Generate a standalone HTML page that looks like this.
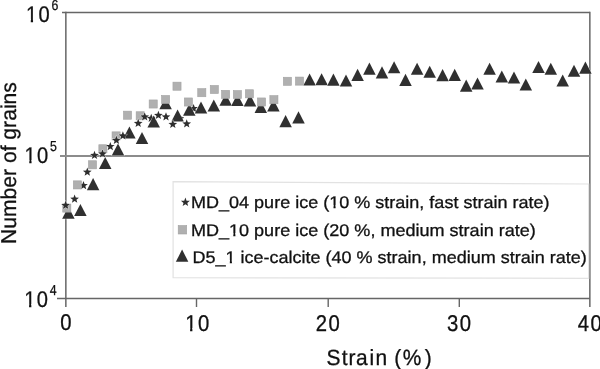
<!DOCTYPE html>
<html><head><meta charset="utf-8"><style>
html,body{margin:0;padding:0;background:#fff;}
body{width:600px;height:369px;overflow:hidden;position:relative;font-family:"Liberation Sans",sans-serif;}
svg{position:absolute;left:0;top:0;will-change:transform;}
text{font-family:"Liberation Sans",sans-serif;fill:#111;stroke:#111;stroke-width:0.3px;text-rendering:geometricPrecision;}
</style></head><body>
<svg width="600" height="369" viewBox="0 0 600 369">
<rect x="0" y="0" width="600" height="369" fill="#fff"/>
<g stroke="#666" stroke-width="1.4" fill="none">
<path d="M62,12.5 H589.85"/>
<path d="M589.85,11.8 V307" stroke-width="1.5"/>
<path d="M65.85,11.8 V307" stroke-width="1.5"/>
<path d="M57,298.5 H589.85"/>
<path d="M60,156 H589.85" stroke="#8c8c8c" stroke-width="1.9"/>
<path d="M196.5,298.5 V307 M328.2,298.5 V307 M459.3,298.5 V307"/>
</g>
<g fill="#2e2e2e" stroke="#fff" stroke-width="0.6" paint-order="stroke"><path d="M83.50,180.90 L84.64,183.94 L87.87,184.08 L85.34,186.10 L86.20,189.22 L83.50,187.43 L80.80,189.22 L81.66,186.10 L79.13,184.08 L82.36,183.94Z"/><path d="M151.20,113.80 L152.34,116.84 L155.57,116.98 L153.04,119.00 L153.90,122.12 L151.20,120.33 L148.50,122.12 L149.36,119.00 L146.83,116.98 L150.06,116.84Z"/><path d="M193.60,103.90 L194.74,106.94 L197.97,107.08 L195.44,109.10 L196.30,112.22 L193.60,110.43 L190.90,112.22 L191.76,109.10 L189.23,107.08 L192.46,106.94Z"/><path d="M180.6,116.2 L184.1,117.5 L181.4,119.8 Z"/></g>
<g fill="#303030" stroke="#fff" stroke-width="0.6" paint-order="stroke"><path d="M62.15,218.80 L74.65,218.80 L68.40,206.70 Z"/><path d="M74.15,216.00 L86.65,216.00 L80.40,203.90 Z"/><path d="M86.85,190.20 L99.35,190.20 L93.10,178.10 Z"/><path d="M98.95,169.00 L111.45,169.00 L105.20,156.90 Z"/><path d="M111.75,155.60 L124.25,155.60 L118.00,143.50 Z"/><path d="M123.15,138.60 L135.65,138.60 L129.40,126.50 Z"/><path d="M135.75,144.00 L148.25,144.00 L142.00,131.90 Z"/><path d="M147.45,127.50 L159.95,127.50 L153.70,115.40 Z"/><path d="M159.35,109.30 L171.85,109.30 L165.60,97.20 Z"/><path d="M171.35,121.50 L183.85,121.50 L177.60,109.40 Z"/><path d="M183.05,115.80 L195.55,115.80 L189.30,103.70 Z"/><path d="M194.75,113.60 L207.25,113.60 L201.00,101.50 Z"/><path d="M207.55,111.50 L220.05,111.50 L213.80,99.40 Z"/><path d="M219.45,105.80 L231.95,105.80 L225.70,93.70 Z"/><path d="M231.15,106.00 L243.65,106.00 L237.40,93.90 Z"/><path d="M243.75,106.40 L256.25,106.40 L250.00,94.30 Z"/><path d="M254.55,113.00 L267.05,113.00 L260.80,100.90 Z"/><path d="M267.15,111.40 L279.65,111.40 L273.40,99.30 Z"/><path d="M279.35,127.20 L291.85,127.20 L285.60,115.10 Z"/><path d="M292.25,123.40 L304.75,123.40 L298.50,111.30 Z"/><path d="M303.35,85.50 L315.85,85.50 L309.60,73.40 Z"/><path d="M315.35,85.30 L327.85,85.30 L321.60,73.20 Z"/><path d="M327.15,85.70 L339.65,85.70 L333.40,73.60 Z"/><path d="M339.75,86.60 L352.25,86.60 L346.00,74.50 Z"/><path d="M351.35,80.90 L363.85,80.90 L357.60,68.80 Z"/><path d="M363.15,74.70 L375.65,74.70 L369.40,62.60 Z"/><path d="M375.75,78.40 L388.25,78.40 L382.00,66.30 Z"/><path d="M387.85,73.30 L400.35,73.30 L394.10,61.20 Z"/><path d="M399.25,85.90 L411.75,85.90 L405.50,73.80 Z"/><path d="M410.85,74.80 L423.35,74.80 L417.10,62.70 Z"/><path d="M423.45,77.80 L435.95,77.80 L429.70,65.70 Z"/><path d="M436.35,81.20 L448.85,81.20 L442.60,69.10 Z"/><path d="M448.45,80.90 L460.95,80.90 L454.70,68.80 Z"/><path d="M459.95,91.70 L472.45,91.70 L466.20,79.60 Z"/><path d="M471.25,89.50 L483.75,89.50 L477.50,77.40 Z"/><path d="M483.35,74.80 L495.85,74.80 L489.60,62.70 Z"/><path d="M495.55,82.50 L508.05,82.50 L501.80,70.40 Z"/><path d="M507.75,83.60 L520.25,83.60 L514.00,71.50 Z"/><path d="M519.55,90.60 L532.05,90.60 L525.80,78.50 Z"/><path d="M532.25,73.00 L544.75,73.00 L538.50,60.90 Z"/><path d="M544.55,74.80 L557.05,74.80 L550.80,62.70 Z"/><path d="M556.45,86.60 L568.95,86.60 L562.70,74.50 Z"/><path d="M567.75,76.80 L580.25,76.80 L574.00,64.70 Z"/><path d="M579.15,73.70 L591.65,73.70 L585.40,61.60 Z"/></g>
<g fill="#b0b0b0" stroke="#a2a2a2" stroke-width="0.6"><rect x="62.75" y="204.05" width="8.1" height="8.1"/><rect x="73.35" y="180.85" width="8.1" height="8.1"/><rect x="88.45" y="160.75" width="8.1" height="8.1"/><rect x="98.85" y="144.75" width="8.1" height="8.1"/><rect x="112.05" y="131.85" width="8.1" height="8.1"/><rect x="123.45" y="111.15" width="8.1" height="8.1"/><rect x="136.15" y="111.75" width="8.1" height="8.1"/><rect x="149.15" y="99.95" width="8.1" height="8.1"/><rect x="161.55" y="95.45" width="8.1" height="8.1"/><rect x="172.95" y="82.15" width="8.1" height="8.1"/><rect x="184.35" y="97.95" width="8.1" height="8.1"/><rect x="197.75" y="88.65" width="8.1" height="8.1"/><rect x="210.25" y="85.45" width="8.1" height="8.1"/><rect x="221.55" y="90.35" width="8.1" height="8.1"/><rect x="233.35" y="90.55" width="8.1" height="8.1"/><rect x="245.35" y="89.75" width="8.1" height="8.1"/><rect x="257.45" y="97.95" width="8.1" height="8.1"/><rect x="269.85" y="95.65" width="8.1" height="8.1"/><rect x="283.35" y="77.25" width="8.1" height="8.1"/><rect x="295.45" y="77.05" width="8.1" height="8.1"/></g>
<g fill="#2e2e2e" stroke="#fff" stroke-width="0.6" paint-order="stroke"><path d="M65.60,200.70 L66.74,203.74 L69.97,203.88 L67.44,205.90 L68.30,209.02 L65.60,207.23 L62.90,209.02 L63.76,205.90 L61.23,203.88 L64.46,203.74Z"/><path d="M74.60,194.50 L75.74,197.54 L78.97,197.68 L76.44,199.70 L77.30,202.82 L74.60,201.03 L71.90,202.82 L72.76,199.70 L70.23,197.68 L73.46,197.54Z"/><path d="M87.30,167.50 L88.44,170.54 L91.67,170.68 L89.14,172.70 L90.00,175.82 L87.30,174.03 L84.60,175.82 L85.46,172.70 L82.93,170.68 L86.16,170.54Z"/><path d="M94.50,150.80 L95.64,153.84 L98.87,153.98 L96.34,156.00 L97.20,159.12 L94.50,157.33 L91.80,159.12 L92.66,156.00 L90.13,153.98 L93.36,153.84Z"/><path d="M102.50,149.20 L103.64,152.24 L106.87,152.38 L104.34,154.40 L105.20,157.52 L102.50,155.73 L99.80,157.52 L100.66,154.40 L98.13,152.38 L101.36,152.24Z"/><path d="M110.30,141.90 L111.44,144.94 L114.67,145.08 L112.14,147.10 L113.00,150.22 L110.30,148.43 L107.60,150.22 L108.46,147.10 L105.93,145.08 L109.16,144.94Z"/><path d="M116.40,135.70 L117.54,138.74 L120.77,138.88 L118.24,140.90 L119.10,144.02 L116.40,142.23 L113.70,144.02 L114.56,140.90 L112.03,138.88 L115.26,138.74Z"/><path d="M122.90,131.20 L124.04,134.24 L127.27,134.38 L124.74,136.40 L125.60,139.52 L122.90,137.73 L120.20,139.52 L121.06,136.40 L118.53,134.38 L121.76,134.24Z"/><path d="M138.20,118.80 L139.34,121.84 L142.57,121.98 L140.04,124.00 L140.90,127.12 L138.20,125.33 L135.50,127.12 L136.36,124.00 L133.83,121.98 L137.06,121.84Z"/><path d="M144.70,112.20 L145.84,115.24 L149.07,115.38 L146.54,117.40 L147.40,120.52 L144.70,118.73 L142.00,120.52 L142.86,117.40 L140.33,115.38 L143.56,115.24Z"/><path d="M158.40,110.80 L159.54,113.84 L162.77,113.98 L160.24,116.00 L161.10,119.12 L158.40,117.33 L155.70,119.12 L156.56,116.00 L154.03,113.98 L157.26,113.84Z"/><path d="M166.00,112.20 L167.14,115.24 L170.37,115.38 L167.84,117.40 L168.70,120.52 L166.00,118.73 L163.30,120.52 L164.16,117.40 L161.63,115.38 L164.86,115.24Z"/><path d="M172.80,119.80 L173.94,122.84 L177.17,122.98 L174.64,125.00 L175.50,128.12 L172.80,126.33 L170.10,128.12 L170.96,125.00 L168.43,122.98 L171.66,122.84Z"/><path d="M186.70,119.20 L187.84,122.24 L191.07,122.38 L188.54,124.40 L189.40,127.52 L186.70,125.73 L184.00,127.52 L184.86,124.40 L182.33,122.38 L185.56,122.24Z"/></g>
<path d="M173.1,181.6 L588.7,184 L588.7,278.3 L173.1,277.7 Z" fill="#fff" stroke="#e2e2e2" stroke-width="1.2"/>
<path d="M185.40,197.60 L186.56,200.70 L189.87,200.85 L187.28,202.91 L188.16,206.10 L185.40,204.27 L182.64,206.10 L183.52,202.91 L180.93,200.85 L184.24,200.70Z" fill="#2e2e2e"/>
<rect x="178.2" y="225.5" width="8.5" height="8.5" fill="#b0b0b0" stroke="#a2a2a2" stroke-width="0.6"/>
<path d="M175.85,261.70 L188.35,261.70 L182.10,249.60 Z" fill="#303030"/>
<g class="t">
<text transform="scale(0.890,1)" x="67.65" y="330.00" font-size="22.80">0</text>
<text transform="scale(0.890,1)" x="208.14 222.39" y="331.00" font-size="22.80">10</text>
<text transform="scale(0.890,1)" x="354.92 369.17" y="331.00" font-size="22.80">20</text>
<text transform="scale(0.890,1)" x="502.39 516.64" y="331.00" font-size="22.80">30</text>
<text transform="scale(0.890,1)" x="649.25 663.50" y="331.00" font-size="22.80">40</text>
<text transform="scale(0.890,1)" x="29.17 43.30" y="22.00" font-size="22.60">10</text>
<text transform="scale(0.890,1)" x="27.49 41.61" y="163.00" font-size="22.60">10</text>
<text transform="scale(0.890,1)" x="27.26 41.39" y="307.00" font-size="22.60">10</text>
<text transform="scale(0.850,1)" x="60.56" y="10.20" font-size="14.50">6</text>
<text transform="scale(0.850,1)" x="58.71" y="151.10" font-size="14.50">5</text>
<text transform="scale(0.850,1)" x="58.49" y="295.40" font-size="14.50">4</text>
<text x="191.02" y="207.70" font-size="16.9" textLength="358.50" lengthAdjust="spacingAndGlyphs">MD_04 pure ice (10 % strain, fast strain rate)</text>
<text x="190.92" y="235.60" font-size="16.9" textLength="344.90" lengthAdjust="spacingAndGlyphs">MD_10 pure ice (20 %, medium strain rate)</text>
<text x="192.52" y="262.60" font-size="16.9" textLength="394.19" lengthAdjust="spacingAndGlyphs">D5_1 ice-calcite (40 % strain, medium strain rate)</text>
<text transform="scale(0.95,1)" x="343.74 359.67 366.96 374.85 389.05 395.38 406.32 415.06 423.85 447.24" y="365" font-size="22">Strain (%)</text>
<text transform="translate(16,244.1) rotate(-90)" font-size="21.5" textLength="162" lengthAdjust="spacingAndGlyphs">Number of grains</text>
</g>
<g fill="#fff"><rect x="185.83" y="328.00" width="4.27" height="4.30"/><rect x="192.39" y="328.00" width="4.11" height="4.30"/><rect x="26.54" y="19.01" width="4.23" height="4.29"/><rect x="33.05" y="19.01" width="4.08" height="4.29"/><rect x="25.04" y="160.01" width="4.23" height="4.29"/><rect x="31.55" y="160.01" width="4.08" height="4.29"/><rect x="24.84" y="304.01" width="4.23" height="4.29"/><rect x="31.35" y="304.01" width="4.08" height="4.29"/><rect x="329.64" y="205.14" width="3.86" height="3.86"/><rect x="335.59" y="205.14" width="3.72" height="3.86"/><rect x="229.43" y="233.04" width="3.87" height="3.86"/><rect x="235.39" y="233.04" width="3.72" height="3.86"/><rect x="225.97" y="260.04" width="3.86" height="3.86"/><rect x="231.92" y="260.04" width="3.72" height="3.86"/></g>
</svg>
</body></html>
